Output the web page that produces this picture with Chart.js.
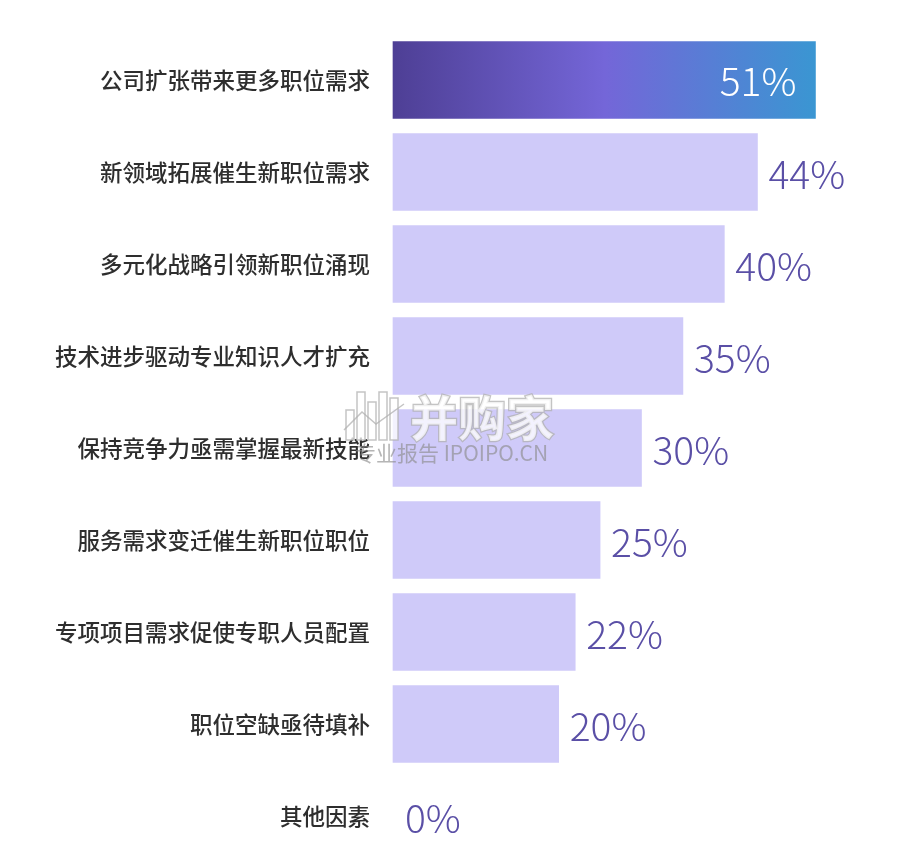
<!DOCTYPE html>
<html lang="zh">
<head>
    <meta charset="UTF-8">
    <title>职位需求原因</title>
    <script src="https://cdn.jsdelivr.net/npm/chart.js@4.4.1/dist/chart.umd.min.js"></script>
    <style>
        body {
            margin: 0;
            padding: 0;
            background-color: #ffffff;
        }
        #chartContainer {
            position: relative;
            width: 901px;
            height: 848px;
        }
    </style>
</head>
<body>
    <div id="chartContainer">
        <canvas id="reasonChart"></canvas>
    </div>

    <script>
        // Data
        const categories = [
            '公司扩张带来更多职位需求',
            '新领域拓展催生新职位需求',
            '多元化战略引领新职位涌现',
            '技术进步驱动专业知识人才扩充',
            '保持竞争力亟需掌握最新技能',
            '服务需求变迁催生新职位职位',
            '专项项目需求促使专职人员配置',
            '职位空缺亟待填补',
            '其他因素'
        ];
        const shares = [51, 44, 40, 35, 30, 25, 22, 20, 0];

        const FONT = '"Noto Sans CJK SC", "Noto Sans", sans-serif';

        // first bar gets a gradient, the rest are flat lavender
        function barColor(context) {
            const chart = context.chart;
            const area = chart.chartArea;
            if (shares[context.dataIndex] === 0) return 'rgba(0,0,0,0)';
            if (!area || context.dataIndex !== 0) return '#cfcaf9';
            const g = chart.ctx.createLinearGradient(area.left, 0, area.left + 423, 0);
            g.addColorStop(0, '#4e3f95');
            g.addColorStop(0.5, '#7466d8');
            g.addColorStop(1, '#3a96d2');
            return g;
        }

        // value labels next to / inside the bars
        const valueLabels = {
            id: 'valueLabels',
            afterDatasetsDraw(chart) {
                const ctx = chart.ctx;
                const meta = chart.getDatasetMeta(0);
                ctx.save();
                ctx.font = '300 39px ' + FONT;
                ctx.textBaseline = 'middle';
                meta.data.forEach((bar, i) => {
                    const text = shares[i] + '%';
                    if (i === 0) {
                        ctx.fillStyle = '#ffffff';
                        ctx.textAlign = 'right';
                        ctx.fillText(text, bar.x - 19, bar.y + 1);
                    } else {
                        ctx.fillStyle = '#5a4fa6';
                        ctx.textAlign = 'left';
                        ctx.fillText(text, bar.x + (shares[i] === 0 ? 12 : 11), bar.y + 2);
                    }
                });
                ctx.restore();
            }
        };

        // faint site watermark in the middle
        const watermark = {
            id: 'watermark',
            afterDraw(chart) {
                const ctx = chart.ctx;
                ctx.save();
                ctx.globalAlpha = 0.75;
                ctx.strokeStyle = '#b0b0b0';
                ctx.fillStyle = '#ffffff';
                ctx.lineWidth = 1.5;
                // icon: outlined columns
                [[346, 410, 8, 30], [357, 392, 8, 48], [368, 402, 8, 38], [379, 392, 8, 48], [390, 398, 8, 42]].forEach(r => {
                    ctx.fillRect(r[0], r[1], r[2], r[3]);
                    ctx.strokeRect(r[0], r[1], r[2], r[3]);
                });
                ctx.beginPath();
                ctx.moveTo(344, 430);
                ctx.lineTo(362, 412);
                ctx.lineTo(376, 424);
                ctx.lineTo(404, 404);
                ctx.stroke();
                ctx.font = '700 48px ' + FONT;
                ctx.textAlign = 'left';
                ctx.textBaseline = 'middle';
                ctx.lineWidth = 2.5;
                ctx.strokeText('并购家', 410, 418);
                ctx.fillText('并购家', 410, 418);
                ctx.font = '400 21px ' + FONT;
                ctx.fillStyle = 'rgba(140,140,140,0.85)';
                ctx.fillText('专业报告 IPOIPO.CN', 355, 453);
                ctx.restore();
            }
        };

        const config = {
            type: 'bar',
            data: {
                labels: categories,
                datasets: [{
                    data: shares,
                    backgroundColor: barColor,
                    borderWidth: 0,
                    barThickness: 77,
                    clip: false
                }]
            },
            options: {
                indexAxis: 'y',
                responsive: true,
                maintainAspectRatio: false,
                animation: false,
                layout: {
                    padding: { top: 80, bottom: 32, left: 0, right: 11 }
                },
                plugins: {
                    legend: { display: false },
                    tooltip: { enabled: false }
                },
                scales: {
                    x: {
                        display: false,
                        min: 0,
                        max: 60
                    },
                    y: {
                        offset: false,
                        grid: { display: false },
                        border: { display: false },
                        ticks: {
                            color: '#2e2e2e',
                            padding: 15,
                            font: { family: FONT, size: 22.5, weight: '500' }
                        },
                        afterFit(scale) {
                            scale.width = 393;
                        }
                    }
                }
            },
            plugins: [valueLabels, watermark]
        };

        new Chart(document.getElementById('reasonChart'), config);
    </script>
</body>
</html>
